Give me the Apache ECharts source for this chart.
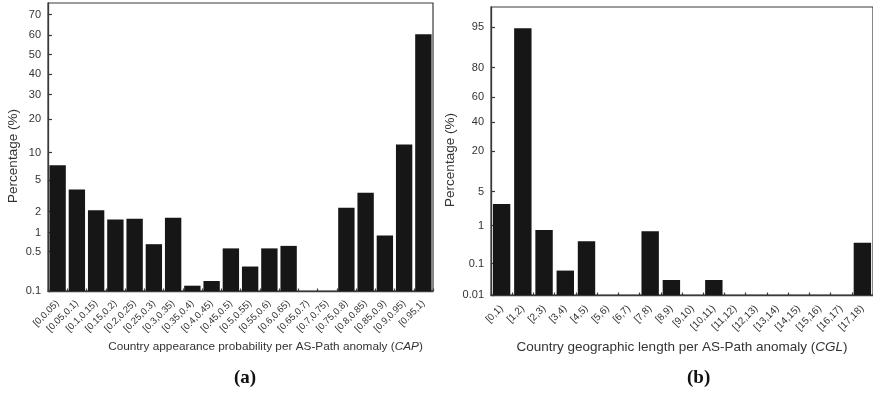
<!DOCTYPE html>
<html>
<head>
<meta charset="utf-8">
<script src="https://cdn.jsdelivr.net/npm/echarts@6/dist/echarts.min.js"></script>
<style>
html,body{margin:0;padding:0;background:#fff;}
#chart{width:873px;height:396px;}
</style>
</head>
<body>
<div id="chart"></div>
<script>
// ---- data ----
const capCategories = ['[0,0.05)','[0.05,0.1)','[0.1,0.15)','[0.15,0.2)','[0.2,0.25)','[0.25,0.3)','[0.3,0.35)','[0.35,0.4)','[0.4,0.45)','[0.45,0.5)','[0.5,0.55)','[0.55,0.6)','[0.6,0.65)','[0.65,0.7)','[0.7,0.75)','[0.75,0.8)','[0.8,0.85)','[0.85,0.9)','[0.9,0.95)','[0.95,1)'];
const capValues = [7.4, 3.9, 2.1, 1.56, 1.6, 0.66, 1.65, 0.126, 0.154, 0.565, 0.28, 0.565, 0.62, null, null, 2.26, 3.55, 0.9, 12, 60.5];
const capTicks = [0.1, 0.5, 1, 2, 5, 10, 20, 30, 40, 50, 60, 70];
const capRange = [0.1, 75];

const cglCategories = ['[0,1)','[1,2)','[2,3)','[3,4)','[4,5)','[5,6)','[6,7)','[7,8)','[8,9)','[9,10)','[10,11)','[11,12)','[12,13)','[13,14)','[14,15)','[15,16)','[16,17)','[17,18)'];
const cglValues = [2.9, 94.8, 0.78, 0.062, 0.41, null, null, 0.73, 0.0315, null, 0.0315, null, null, null, null, null, null, 0.38];
const cglTicks = [0.01, 0.1, 1, 5, 20, 40, 60, 80, 95];
const cglRange = [0.01, 98];

// ---- normal probability (probit) scale helpers ----
function probit(p) {
  const a=[-3.969683028665376e+01,2.209460984245205e+02,-2.759285104469687e+02,1.383577518672690e+02,-3.066479806614716e+01,2.506628277459239e+00];
  const b=[-5.447609879822406e+01,1.615858368580409e+02,-1.556989798598866e+02,6.680131188771972e+01,-1.328068155288572e+01];
  const c=[-7.784894002430293e-03,-3.223964580411365e-01,-2.400758277161838e+00,-2.549732539343734e+00,4.374664141464968e+00,2.938163982698783e+00];
  const d=[7.784695709041462e-03,3.224671290700398e-01,2.445134137142996e+00,3.754408661907416e+00];
  const pl=0.02425, ph=1-pl;
  if (p < pl) { const q=Math.sqrt(-2*Math.log(p)); return (((((c[0]*q+c[1])*q+c[2])*q+c[3])*q+c[4])*q+c[5])/((((d[0]*q+d[1])*q+d[2])*q+d[3])*q+1); }
  if (p <= ph) { const q=p-0.5, r=q*q; return (((((a[0]*r+a[1])*r+a[2])*r+a[3])*r+a[4])*r+a[5])*q/(((((b[0]*r+b[1])*r+b[2])*r+b[3])*r+b[4])*r+1); }
  const q=Math.sqrt(-2*Math.log(1-p)); return -(((((c[0]*q+c[1])*q+c[2])*q+c[3])*q+c[4])*q+c[5])/((((d[0]*q+d[1])*q+d[2])*q+d[3])*q+1);
}
function tf(v, base) { return v == null ? null : probit(v/100) - probit(base/100); }
function labelFor(ticks, base) {
  return function (val) {
    let best = ticks[0], bd = Infinity;
    ticks.forEach(t => { const d = Math.abs(tf(t, base) - val); if (d < bd) { bd = d; best = t; } });
    return String(best);
  };
}

const axisColor = '#3a3a3a';
const textColor = '#333';
const barColor = '#161616';
const FONT = 'Liberation Sans, Arial';

function yAxisFor(gridIndex, ticks, range, nameGap) {
  const vals = ticks.map(t => tf(t, range[0]));
  return {
    type: 'value', gridIndex,
    min: 0, max: tf(range[1], range[0]),
    name: 'Percentage (%)', nameLocation: 'middle', nameGap, nameMoveOverlap: false,
    nameTextStyle: { fontFamily: FONT, fontSize: 13.5, color: textColor, padding: [0, 18, 0, 0] },
    axisLine: { show: true, lineStyle: { color: axisColor, width: 1.3 } },
    axisTick: { show: true, inside: true, length: 4, customValues: vals, lineStyle: { color: axisColor, width: 1.2 } },
    axisLabel: { customValues: vals, formatter: labelFor(ticks, range[0]), fontFamily: FONT, fontSize: 11, color: textColor, margin: 7 },
    splitLine: { show: false }
  };
}

function xAxisFor(gridIndex, cats, nameRich, nameGap, pad, nameSize, labelMargin, labelSize) {
  return {
    type: 'category', gridIndex, data: cats,
    name: nameRich, nameLocation: 'middle', nameGap, nameMoveOverlap: false,
    nameTextStyle: {
      fontFamily: FONT, fontSize: nameSize, color: textColor, padding: pad,
      rich: { i: { fontStyle: 'italic', fontFamily: FONT, fontSize: nameSize, color: textColor } }
    },
    axisLine: { show: true, lineStyle: { color: axisColor, width: 1.3 } },
    axisTick: { show: true, inside: true, length: 2.5, alignWithLabel: false, lineStyle: { color: axisColor, width: 1.2 } },
    axisLabel: { interval: 0, rotate: 45, fontFamily: FONT, fontSize: labelSize, color: textColor, margin: labelMargin },
    splitLine: { show: false }
  };
}

const chart = echarts.init(document.getElementById('chart'), null, { renderer: 'canvas' });
chart.setOption({
  backgroundColor: '#fff',
  animation: false,
  title: [
    { text: '(a)', left: 229, top: 364, textStyle: { fontFamily: 'Liberation Serif, Times New Roman', fontWeight: 'bold', fontSize: 19, color: '#111' } },
    { text: '(b)', left: 682, top: 364, textStyle: { fontFamily: 'Liberation Serif, Times New Roman', fontWeight: 'bold', fontSize: 19, color: '#111' } }
  ],
  grid: [
    { left: 48, top: 3, width: 385, height: 288, show: true, borderColor: axisColor, borderWidth: 1.2, backgroundColor: 'transparent' },
    { left: 491, top: 7, width: 385, height: 288, show: true, borderColor: axisColor, borderWidth: 1.2, backgroundColor: 'transparent' }
  ],
  xAxis: [
    xAxisFor(0, capCategories, 'Country appearance probability per AS-Path anomaly ({i|CAP})', 50, [0, 0, 0, 50], 11.8, 11, 9.5),
    xAxisFor(1, cglCategories, 'Country geographic length per AS-Path anomaly ({i|CGL})', 45, [0, 0, 0, 0], 13.5, 12, 10)
  ],
  yAxis: [
    yAxisFor(0, capTicks, capRange, 28),
    yAxisFor(1, cglTicks, cglRange, 34)
  ],
  series: [
    { type: 'bar', xAxisIndex: 0, yAxisIndex: 0, data: capValues.map(v => tf(v, capRange[0])), barCategoryGap: '15%', itemStyle: { color: barColor }, silent: true },
    { type: 'bar', xAxisIndex: 1, yAxisIndex: 1, data: cglValues.map(v => tf(v, cglRange[0])), barCategoryGap: '18%', itemStyle: { color: barColor }, silent: true }
  ]
});
</script>
</body>
</html>
